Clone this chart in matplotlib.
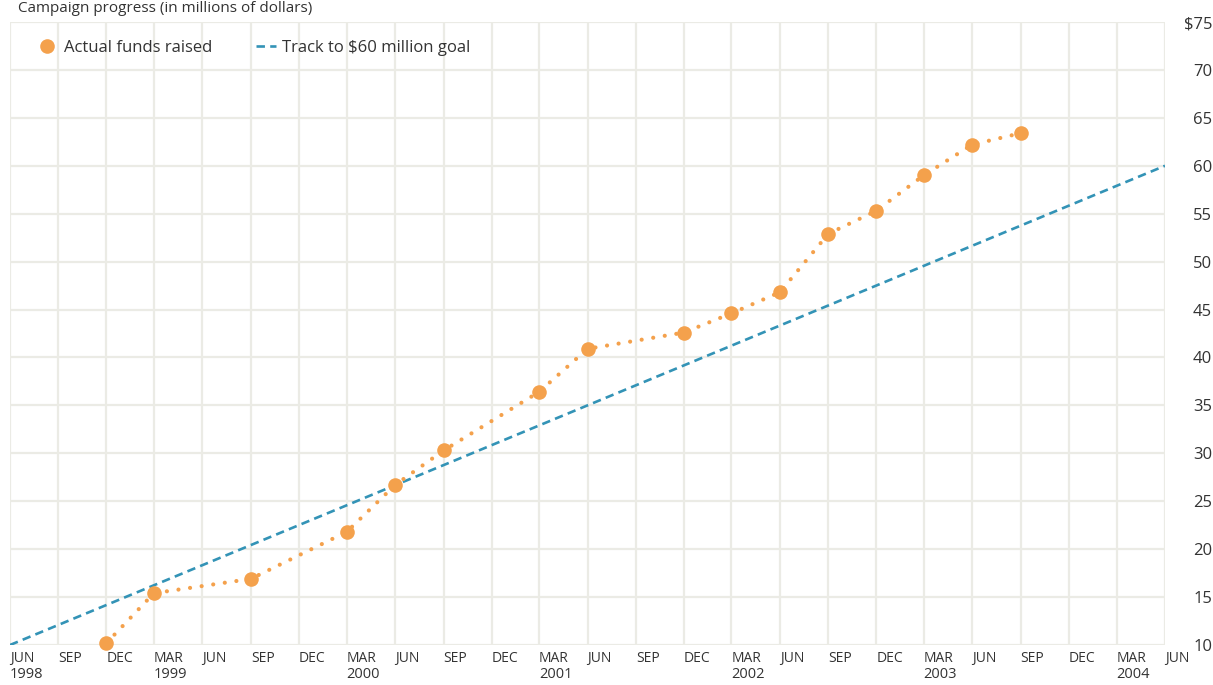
import matplotlib
matplotlib.use('Agg')
import matplotlib.pyplot as plt
import matplotlib.dates as mdates
import pandas as pd

# actual funds raised (millions of dollars)
fund_dates = ['1998-12', '1999-03', '1999-09', '2000-03', '2000-06', '2000-09',
              '2001-03', '2001-06', '2001-12', '2002-03', '2002-06', '2002-09',
              '2002-12', '2003-03', '2003-06', '2003-09']
fund_values = [10.2, 15.4, 16.9, 21.8, 26.7, 30.3, 36.4, 40.9,
               42.6, 44.6, 46.8, 52.9, 55.3, 59.0, 62.2, 63.4]

# straight track to the goal
goal_dates = ['1998-06', '2004-06']
goal_values = [10, 60]

y_ticks = [10, 15, 20, 25, 30, 35, 40, 45, 50, 55, 60, 65, 70, 75]
year_dates = ['1998-06', '1999-03', '2000-03', '2001-03', '2002-03', '2003-03', '2004-03']

ORANGE = '#f4a14c'
BLUE = '#3393b6'
GRID = '#ebebe5'
TEXT = '#333333'

plt.rcParams['font.family'] = ['Open Sans', 'DejaVu Sans']

fd = pd.to_datetime(fund_dates)
gd = pd.to_datetime(goal_dates)
yd = pd.to_datetime(year_dates)

fig = plt.figure(figsize=(12.13, 6.85), dpi=100)
ax = fig.add_axes([10 / 1213, 1 - 645 / 685, 1155 / 1213, 623 / 685])

ax.plot(gd, goal_values, color=BLUE, lw=1.9, linestyle=(0, (3.2, 2.0)),
        label='Track to $60 million goal', zorder=3)
ax.plot(fd, fund_values, color=ORANGE, lw=3.0, linestyle=(0, (0.01, 2.8)),
        dash_capstyle='round', zorder=4, clip_on=False)
ax.plot(fd, fund_values, 'o', color=ORANGE, ms=10.5, mec='none', zorder=5,
        label='Actual funds raised', clip_on=False)

ax.set_xlim(gd[0], gd[1])
ax.set_ylim(10, 75)

# month names on major ticks, years on minor ticks
ax.xaxis.set_major_locator(mdates.MonthLocator(bymonth=[3, 6, 9, 12]))
ax.xaxis.set_major_formatter(plt.FuncFormatter(
    lambda x, pos: mdates.num2date(x).strftime('%b').upper()))
ax.xaxis.remove_overlapping_locs = False
ax.set_xticks(mdates.date2num(yd), [str(d.year) for d in yd], minor=True)
ax.tick_params(axis='x', which='major', length=0, pad=4, labelsize=10, labelcolor=TEXT)
ax.tick_params(axis='x', which='minor', length=0, pad=16, labelsize=10.5, labelcolor=TEXT)
plt.setp(ax.get_xticklabels(which='both'), ha='left')

ax.yaxis.tick_right()
ax.set_yticks(y_ticks)
ax.set_yticklabels([('$' if v == 75 else '') + str(v) for v in y_ticks])
ax.tick_params(axis='y', length=0, pad=34, labelsize=12, labelcolor=TEXT)
plt.setp(ax.get_yticklabels(), ha='right')

ax.grid(True, which='major', color=GRID, lw=1.6)
ax.set_axisbelow(True)
for s in ax.spines.values():
    s.set_visible(False)

h, l = ax.get_legend_handles_labels()
ax.legend(h[::-1], l[::-1], loc='upper left', ncol=2, frameon=False,
          fontsize=12, handlelength=1.2, handletextpad=0.4, columnspacing=2.6,
          bbox_to_anchor=(0.0107, 0.995), labelcolor=TEXT)

# chart title along the top edge
fig.text(0.015, 1 - 1 / 685, 'Campaign progress (in millions of dollars)',
         fontsize=11, color=TEXT, va='top', ha='left')

fig.savefig('out.png', dpi=100)
